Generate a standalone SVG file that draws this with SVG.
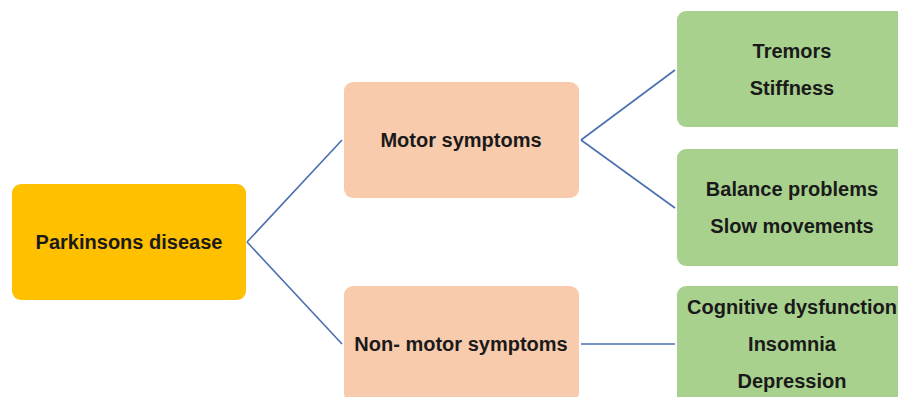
<svg xmlns="http://www.w3.org/2000/svg" width="898" height="397" viewBox="0 0 898 397">
<style>
text{font-family:"Liberation Sans",Arial,sans-serif;font-weight:bold;font-size:20px;fill:#1a1a1a;text-anchor:middle}
.root{fill:#FFC000}
.mid{fill:#F8CBAD}
.leaf{fill:#A9D18E}
.conn line{stroke:#4A6FB0;stroke-width:1.6;fill:none}
</style>
<rect width="898" height="397" fill="#ffffff"/>
<g class="conn" id="connectors">
<line x1="247" y1="242" x2="342" y2="140"/>
<line x1="247" y1="242" x2="342" y2="344"/>
<line x1="581" y1="140" x2="675" y2="70"/>
<line x1="581" y1="140" x2="675" y2="208"/>
<line x1="581" y1="344" x2="675" y2="344"/>
</g>
<g id="parkinsons">
<rect class="root" x="12" y="184" width="234" height="116" rx="9"/>
<text x="129" y="249">Parkinsons disease</text>
</g>
<g id="motor">
<rect class="mid" x="344" y="82" width="235" height="116" rx="9"/>
<text x="461" y="147">Motor symptoms</text>
</g>
<g id="nonmotor">
<rect class="mid" x="344" y="286" width="235" height="116" rx="9"/>
<text x="461" y="351">Non- motor symptoms</text>
</g>
<g id="tremors">
<rect class="leaf" x="677" y="11" width="232" height="116" rx="9"/>
<text x="792" y="58">Tremors</text>
<text x="792" y="95">Stiffness</text>
</g>
<g id="balance">
<rect class="leaf" x="677" y="149" width="232" height="117" rx="9"/>
<text x="792" y="196">Balance problems</text>
<text x="792" y="233">Slow movements</text>
</g>
<g id="cognitive">
<rect class="leaf" x="677" y="286" width="232" height="120" rx="9"/>
<text x="792" y="314">Cognitive dysfunction</text>
<text x="792" y="351">Insomnia</text>
<text x="792" y="388">Depression</text>
</g>
</svg>
